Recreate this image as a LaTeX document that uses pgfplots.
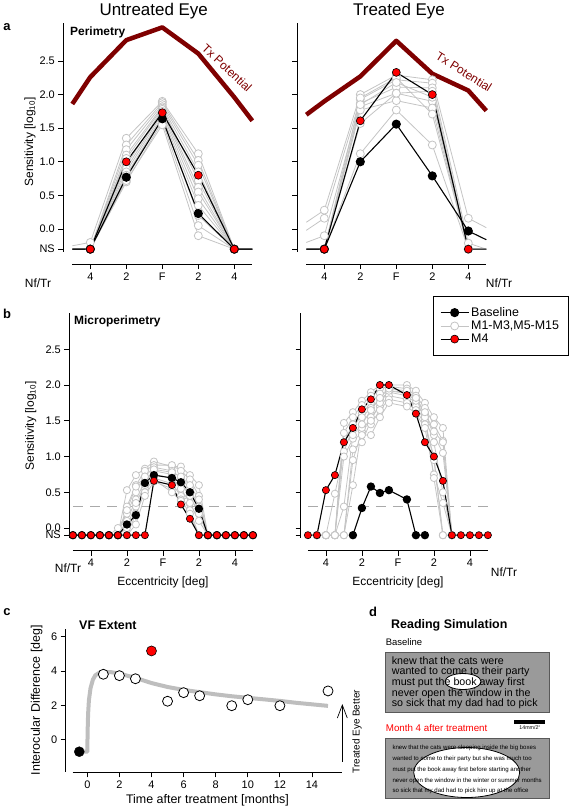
\documentclass[border=0pt]{standalone}
\usepackage{fontspec}
\setmainfont{Liberation Sans}
\usepackage{pgfplots}
\pgfplotsset{compat=1.18}
\definecolor{lg}{HTML}{C4C4C4}
\definecolor{tx}{HTML}{7F0000}
\definecolor{cg}{HTML}{BEBEBE}
\definecolor{boxg}{HTML}{9A9A9A}
\definecolor{dashg}{HTML}{AAAAAA}
\pgfplotsset{
  rstyle/.style={scale only axis, axis x line*=bottom, axis y line*=left,
    axis line style={draw=none}, tick align=outside, major tick length=5bp,
    tick style={black, line width=0.8bp}, clip=false,
    ticklabel style={font=\fontsize{11}{13}\selectfont},
    minor tick num=0},
  gs/.style={color=lg, line width=0.8bp, mark=*, mark size=4bp, mark options={fill=white, draw=lg, line width=0.8bp, solid}},
  bs/.style={black, line width=1.1bp, mark=*, mark size=4bp, mark options={fill=black, draw=black, solid}},
  rs/.style={black, line width=1.1bp, mark=*, mark size=4bp, mark options={fill=red, draw=black, line width=0.6bp, solid}},
}
\begin{document}
\begin{tikzpicture}
\path[use as bounding box] (0,0) rectangle (576bp,-810bp);

% ================= Panel a, untreated =================
\begin{axis}[rstyle, at={(63.3bp,-264bp)}, anchor=south west, width=198bp, height=241bp,
  xmin=-5.5, xmax=5.5, ymin=-0.521, ymax=3.065,
  xtick={-4,-2,0,2,4}, xticklabels={4,2,F,2,4},
  ytick={-0.3,0,0.5,1,1.5,2,2.5}, yticklabels={NS,0.0,0.5,1.0,1.5,2.0,2.5}]
\draw[line width=0.8bp] (axis cs:-5.5,3.065) -- (axis cs:-5.5,-0.34);
\draw[line width=0.8bp] (axis cs:-5,-0.521) -- (axis cs:5,-0.521);
\addplot[tx, line width=4.5bp, line join=round] coordinates {(-5,1.86)(-4,2.26)(-2,2.81)(0,3.0)(2,2.61)(4,1.96)(5,1.61)};
\addplot[gs, mark indices={2,3,4,5,6}] coordinates {(-5,-0.25)(-4,-0.2)(-2,1.35)(0,1.90)(2,1.12)(4,-0.3)(5,-0.3)};
\addplot[gs, mark indices={2,3,4,5,6}] coordinates {(-5,-0.3)(-4,-0.3)(-2,1.25)(0,1.88)(2,1.02)(4,-0.3)(5,-0.3)};
\addplot[gs, mark indices={2,3,4,5,6}] coordinates {(-5,-0.3)(-4,-0.3)(-2,1.18)(0,1.85)(2,0.95)(4,-0.3)(5,-0.3)};
\addplot[gs, mark indices={2,3,4,5,6}] coordinates {(-5,-0.3)(-4,-0.3)(-2,1.10)(0,1.82)(2,0.85)(4,-0.3)(5,-0.3)};
\addplot[gs, mark indices={2,3,4,5,6}] coordinates {(-5,-0.3)(-4,-0.3)(-2,1.05)(0,1.80)(2,0.72)(4,-0.3)(5,-0.3)};
\addplot[gs, mark indices={2,3,4,5,6}] coordinates {(-5,-0.3)(-4,-0.3)(-2,0.95)(0,1.78)(2,0.62)(4,-0.3)(5,-0.3)};
\addplot[gs, mark indices={2,3,4,5,6}] coordinates {(-5,-0.3)(-4,-0.3)(-2,0.90)(0,1.75)(2,0.55)(4,-0.3)(5,-0.3)};
\addplot[gs, mark indices={2,3,4,5,6}] coordinates {(-5,-0.3)(-4,-0.3)(-2,0.85)(0,1.72)(2,0.45)(4,-0.3)(5,-0.3)};
\addplot[gs, mark indices={2,3,4,5,6}] coordinates {(-5,-0.3)(-4,-0.3)(-2,0.80)(0,1.68)(2,0.35)(4,-0.3)(5,-0.3)};
\addplot[gs, mark indices={2,3,4,5,6}] coordinates {(-5,-0.3)(-4,-0.3)(-2,0.75)(0,1.65)(2,0.20)(4,-0.3)(5,-0.3)};
\addplot[gs, mark indices={2,3,4,5,6}] coordinates {(-5,-0.3)(-4,-0.3)(-2,0.70)(0,1.60)(2,0.05)(4,-0.3)(5,-0.3)};
\addplot[gs, mark indices={2,3,4,5,6}] coordinates {(-5,-0.3)(-4,-0.3)(-2,0.72)(0,1.55)(2,-0.10)(4,-0.3)(5,-0.3)};
\addplot[bs, mark indices={2,3,4,5,6}] coordinates {(-5,-0.3)(-4,-0.3)(-2,0.77)(0,1.64)(2,0.23)(4,-0.3)(5,-0.3)};
\addplot[rs, mark indices={2,3,4,5,6}] coordinates {(-5,-0.3)(-4,-0.3)(-2,1.0)(0,1.73)(2,0.80)(4,-0.3)(5,-0.3)};
\end{axis}

% ================= Panel a, treated =================
\begin{axis}[rstyle, at={(297.3bp,-264bp)}, anchor=south west, width=198bp, height=241bp,
  xmin=-5.5, xmax=5.5, ymin=-0.521, ymax=3.065,
  xtick={-4,-2,0,2,4}, xticklabels={4,2,F,2,4},
  ytick={-0.3,0,0.5,1,1.5,2,2.5}, yticklabels={}]
\draw[line width=0.8bp] (axis cs:-5.5,3.065) -- (axis cs:-5.5,-0.34);
\draw[line width=0.8bp] (axis cs:-5,-0.521) -- (axis cs:5,-0.521);
\addplot[tx, line width=4.5bp, line join=round] coordinates {(-5,1.70)(-4,1.90)(-2,2.27)(0,2.80)(2,2.31)(4,2.06)(5,1.76)};
\addplot[gs, mark indices={2,3,4,5,6}] coordinates {(-5,0.10)(-4,0.28)(-2,2.00)(0,2.29)(2,2.22)(4,0.16)(5,0.02)};
\addplot[gs, mark indices={2,3,4,5,6}] coordinates {(-5,-0.02)(-4,0.16)(-2,1.93)(0,2.22)(2,2.17)(4,-0.21)(5,-0.3)};
\addplot[gs, mark indices={2,3,4,5,6}] coordinates {(-5,-0.2)(-4,-0.1)(-2,1.87)(0,2.11)(2,2.10)(4,-0.3)(5,-0.3)};
\addplot[gs, mark indices={2,3,4,5,6}] coordinates {(-5,-0.3)(-4,-0.3)(-2,1.82)(0,2.02)(2,1.90)(4,-0.3)(5,-0.3)};
\addplot[gs, mark indices={2,3,4,5,6}] coordinates {(-5,-0.3)(-4,-0.3)(-2,1.77)(0,1.91)(2,1.80)(4,-0.3)(5,-0.3)};
\addplot[gs, mark indices={2,3,4,5,6}] coordinates {(-5,-0.3)(-4,-0.3)(-2,1.95)(0,2.25)(2,1.71)(4,-0.3)(5,-0.3)};
\addplot[gs, mark indices={2,3,4,5,6}] coordinates {(-5,-0.3)(-4,-0.3)(-2,1.57)(0,2.02)(2,2.05)(4,-0.3)(5,-0.3)};
\addplot[gs, mark indices={2,3,4,5,6}] coordinates {(-5,-0.3)(-4,-0.3)(-2,1.12)(0,1.77)(2,1.25)(4,-0.3)(5,-0.3)};
\addplot[gs, mark indices={2,3,4,5,6}] coordinates {(-5,-0.3)(-4,-0.3)(-2,1.85)(0,2.18)(2,1.96)(4,-0.3)(5,-0.3)};
\addplot[bs, mark indices={2,3,4,5,6}] coordinates {(-5,-0.3)(-4,-0.3)(-2,1.0)(0,1.56)(2,0.79)(4,-0.03)(5,-0.16)};
\addplot[rs, mark indices={2,3,4,5,6}] coordinates {(-5,-0.3)(-4,-0.3)(-2,1.61)(0,2.33)(2,2.0)(4,-0.3)(5,-0.3)};
\end{axis}

% ================= Panel b, untreated =================
\begin{axis}[rstyle, at={(69.3bp,-550.7bp)}, anchor=south west, width=187.2bp, height=237.4bp,
  xmin=-5.2, xmax=5.2, ymin=-0.317, ymax=3.003,
  xtick={-4,-2,0,2,4}, xticklabels={4,2,F,2,4},
  ytick={-0.1,0,0.5,1,1.5,2,2.5}, yticklabels={NS,0.0,0.5,1.0,1.5,2.0,2.5}]
\draw[line width=0.8bp] (axis cs:-5.2,3.003) -- (axis cs:-5.2,-0.14);
\draw[line width=0.8bp] (axis cs:-5,-0.317) -- (axis cs:5,-0.317);
\addplot[dashg, line width=0.8bp, dash pattern=on 10bp off 7bp] coordinates {(-5,0.3)(5,0.3)};
\addplot[gs, mark size=3.6bp] coordinates {(-3,-0.1)(-2.5,-0.1)(-2,0.53)(-1.5,0.74)(-1,0.83)(-0.5,0.93)(0.5,0.86)(1,0.86)(1.5,0.74)(2,0.60)(2.5,-0.1)(3,-0.1)};
\addplot[gs, mark size=3.6bp] coordinates {(-3,-0.1)(-2.5,-0.1)(-2,0.30)(-1.5,0.60)(-1,0.80)(-0.5,0.88)(0.5,0.88)(1,0.80)(1.5,0.68)(2,0.45)(2.5,-0.1)(3,-0.1)};
\addplot[gs, mark size=3.6bp] coordinates {(-3,-0.1)(-2.5,0.0)(-2,0.20)(-1.5,0.50)(-1,0.72)(-0.5,0.85)(0.5,0.80)(1,0.70)(1.5,0.55)(2,0.30)(2.5,-0.1)(3,-0.1)};
\addplot[gs, mark size=3.6bp] coordinates {(-3,-0.1)(-2.5,-0.1)(-2,0.10)(-1.5,0.40)(-1,0.65)(-0.5,0.80)(0.5,0.75)(1,0.62)(1.5,0.45)(2,0.20)(2.5,-0.1)(3,-0.1)};
\addplot[gs, mark size=3.6bp] coordinates {(-3,-0.1)(-2.5,-0.1)(-2,-0.1)(-1.5,0.30)(-1,0.55)(-0.5,0.75)(0.5,0.70)(1,0.55)(1.5,0.35)(2,0.10)(2.5,-0.1)(3,-0.1)};
\addplot[gs, mark size=3.6bp] coordinates {(-3,-0.1)(-2.5,-0.1)(-2,-0.1)(-1.5,0.20)(-1,0.50)(-0.5,0.70)(0.5,0.62)(1,0.45)(1.5,0.25)(2,-0.1)(2.5,-0.1)(3,-0.1)};
\addplot[gs, mark size=3.6bp] coordinates {(-3,-0.1)(-2.5,-0.1)(-2,-0.1)(-1.5,0.05)(-1,0.45)(-0.5,0.65)(0.5,0.55)(1,0.40)(1.5,0.20)(2,-0.1)(2.5,-0.1)(3,-0.1)};
\addplot[gs, mark size=3.6bp] coordinates {(-3,-0.1)(-2.5,-0.1)(-2,0.0)(-1.5,0.35)(-1,0.60)(-0.5,0.82)(0.5,0.78)(1,0.72)(1.5,0.60)(2,0.40)(2.5,-0.1)(3,-0.1)};
\addplot[gs, mark size=3.6bp] coordinates {(-3,-0.1)(-2.5,-0.1)(-2,0.25)(-1.5,0.58)(-1,0.72)(-0.5,0.68)(0.5,0.50)(1,0.38)(1.5,0.45)(2,0.20)(2.5,-0.1)(3,-0.1)};
\addplot[bs, mark size=3.6bp] coordinates {(-5,-0.1)(-4.5,-0.1)(-4,-0.1)(-3.5,-0.1)(-3,-0.1)(-2.5,-0.1)(-2,0.05)(-1.5,0.18)(-1,0.63)(-0.5,0.74)(0.5,0.70)(1,0.64)(1.5,0.50)(2,0.27)(2.5,-0.1)(3,-0.1)(3.5,-0.1)(4,-0.1)(4.5,-0.1)(5,-0.1)};
\addplot[rs, mark size=3.6bp] coordinates {(-5,-0.1)(-4.5,-0.1)(-4,-0.1)(-3.5,-0.1)(-3,-0.1)(-2.5,-0.1)(-2,-0.1)(-1.5,-0.1)(-1,-0.1)(-0.5,0.66)(0.5,0.60)(1,0.33)(1.5,0.13)(2,-0.1)(2.5,-0.1)(3,-0.1)(3.5,-0.1)(4,-0.1)(4.5,-0.1)(5,-0.1)};
\end{axis}

% ================= Panel b, treated =================
\begin{axis}[rstyle, at={(300.7bp,-550.7bp)}, anchor=south west, width=194.4bp, height=237.4bp,
  xmin=-5.4, xmax=5.4, ymin=-0.317, ymax=3.003,
  xtick={-4,-2,0,2,4}, xticklabels={4,2,F,2,4},
  ytick={-0.1,0,0.5,1,1.5,2,2.5}, yticklabels={},
  legend cell align=left,
  legend style={at={(0.679,1.073)}, anchor=north west, draw=black, line width=0.8bp,
    font=\fontsize{12.5}{13.5}\selectfont, inner xsep=7bp, inner ysep=9bp, row sep=-1bp},
  legend image code/.code={\draw[mark repeat=2,mark phase=2,#1] plot coordinates {(0bp,0bp) (14bp,0bp) (28bp,0bp)};}]
\addlegendimage{bs}\addlegendentry{Baseline}
\addlegendimage{gs}\addlegendentry{M1-M3,M5-M15}
\addlegendimage{rs}\addlegendentry{M4}
\draw[line width=0.8bp] (axis cs:-5.4,3.003) -- (axis cs:-5.4,-0.14);
\draw[line width=0.8bp] (axis cs:-5,-0.317) -- (axis cs:5,-0.317);
\addplot[dashg, line width=0.8bp, dash pattern=on 10bp off 7bp, forget plot] coordinates {(-5,0.3)(5,0.3)};
\addplot[gs, mark size=3.6bp, forget plot] coordinates {(-4.5,-0.1)(-4,-0.1)(-3.5,-0.1)(-3,1.47)(-2.5,1.62)(-2,1.78)(-1.5,1.90)(-1,2.00)(-0.5,2.00)(0.5,2.00)(1,1.92)(1.5,1.75)(2,1.55)(2.5,1.40)(3,-0.1)};
\addplot[gs, mark size=3.6bp, forget plot] coordinates {(-4.5,-0.1)(-4,-0.1)(-3.5,-0.1)(-3,1.33)(-2.5,1.55)(-2,1.72)(-1.5,1.85)(-1,1.95)(-0.5,1.98)(0.5,1.95)(1,1.85)(1.5,1.68)(2,1.45)(2.5,1.22)(3,-0.1)};
\addplot[gs, mark size=3.6bp, forget plot] coordinates {(-4.5,-0.1)(-4,-0.1)(-3.5,0.48)(-3,1.07)(-2.5,1.40)(-2,1.60)(-1.5,1.75)(-1,1.88)(-0.5,1.92)(0.5,1.90)(1,1.80)(1.5,1.60)(2,1.30)(2.5,1.05)(3,-0.1)};
\addplot[gs, mark size=3.6bp, forget plot] coordinates {(-4.5,-0.1)(-4,-0.1)(-3.5,-0.1)(-3,1.20)(-2.5,1.45)(-2,1.55)(-1.5,1.68)(-1,1.80)(-0.5,1.90)(0.5,1.85)(1,1.75)(1.5,1.55)(2,1.20)(2.5,0.50)(3,-0.1)};
\addplot[gs, mark size=3.6bp, forget plot] coordinates {(-4.5,-0.1)(-4,-0.1)(-3.5,-0.1)(-3,-0.1)(-2.5,0.95)(-2,1.35)(-1.5,1.55)(-1,1.70)(-0.5,1.85)(0.5,1.80)(1,1.70)(1.5,1.50)(2,0.95)(2.5,-0.1)(3,-0.1)};
\addplot[gs, mark size=3.6bp, forget plot] coordinates {(-4.5,-0.1)(-4,-0.1)(-3.5,-0.1)(-3,-0.1)(-2.5,0.60)(-2,1.40)(-1.5,1.45)(-1,1.65)(-0.5,1.80)(0.5,1.75)(1,1.65)(1.5,1.45)(2,1.00)(2.5,-0.1)(3,-0.1)};
\addplot[gs, mark size=3.6bp, forget plot] coordinates {(-4.5,-0.1)(-4,-0.1)(-3.5,-0.1)(-3,1.00)(-2.5,1.25)(-2,1.30)(-1.5,1.30)(-1,1.55)(-0.5,1.75)(0.5,1.70)(1,1.60)(1.5,1.40)(2,0.75)(2.5,0.35)(3,-0.1)};
\addplot[gs, mark size=3.6bp, forget plot] coordinates {(-4.5,-0.1)(-4,-0.1)(-3.5,-0.1)(-3,-0.1)(-2.5,1.10)(-2,1.20)(-1.5,1.50)(-1,1.75)(-0.5,1.92)(0.5,1.88)(1,1.78)(1.5,1.55)(2,0.70)(2.5,-0.1)(3,-0.1)};
\addplot[gs, mark size=3.6bp, forget plot] coordinates {(-4.5,-0.1)(-4,-0.1)(-3.5,-0.1)(-3,0.30)(-2.5,1.30)(-2,1.45)(-1.5,1.65)(-1,1.82)(-0.5,1.95)(0.5,1.92)(1,1.82)(1.5,1.62)(2,1.35)(2.5,1.20)(3,-0.1)};
\addplot[bs, mark size=3.6bp, forget plot] coordinates {(-2.5,-0.1)(-2,0.28)(-1.5,0.58)(-1,0.49)(-0.5,0.53)(0.5,0.40)(1,-0.1)(1.5,-0.1)};
\addplot[rs, mark size=3.6bp, forget plot] coordinates {(-5,-0.1)(-4.5,-0.1)(-4,0.53)(-3.5,0.74)(-3,1.20)(-2.5,1.40)(-2,1.66)(-1.5,1.80)(-1,2.0)(-0.5,2.0)(0.5,1.86)(1,1.60)(1.5,1.20)(2,1.0)(2.5,0.66)(3,-0.1)(3.5,-0.1)(4,-0.1)(4.5,-0.1)(5,-0.1)};
\end{axis}

% ================= Panel c =================
\begin{axis}[rstyle, at={(65.7bp,-772.3bp)}, anchor=south west, width=286.4bp, height=143bp,
  xmin=-1.346, xmax=16.5, ymin=-1.9, ymax=6.43,
  xtick={0,2,4,6,8,10,12,14}, xticklabels={0,2,4,6,8,10,12,14},
  ytick={0,2,4,6}, yticklabels={0,2,4,6}]
\draw[line width=0.8bp] (axis cs:-1.346,6.43) -- (axis cs:-1.346,-1.9);
\draw[line width=0.8bp] (axis cs:-0.91,-1.9) -- (axis cs:15.85,-1.9);
\addplot[cg, line width=4bp, line join=round] coordinates {(-0.5,-0.7)(0,-0.7)(0.02,0.5)(0.05,1.5)(0.1,2.3)(0.2,3.0)(0.35,3.5)(0.5,3.75)(0.75,3.9)(1,3.95)(1.5,3.93)(2,3.85)(3,3.6)(4,3.3)(5,3.07)(6,2.9)(7,2.77)(8,2.64)(9,2.53)(10,2.44)(11,2.35)(12,2.26)(13,2.15)(14,2.06)(15,1.97)};
\addplot[only marks, mark=*, mark size=5bp, mark options={fill=white, draw=black, line width=0.8bp}] coordinates {(1,3.81)(2,3.73)(3,3.55)(5,2.24)(6,2.74)(7,2.56)(9,1.98)(10,2.33)(12,1.98)(15,2.84)};
\addplot[only marks, mark=*, mark size=5bp, mark options={fill=black, draw=black}] coordinates {(-0.5,-0.70)};
\addplot[only marks, mark=*, mark size=5bp, mark options={fill=red, draw=black, line width=0.6bp}] coordinates {(4,5.17)};
\draw[line width=0.7bp] (axis cs:15.89,-1.28) -- (axis cs:15.89,2.02);
\draw[line width=0.7bp] (axis cs:15.58,1.26) -- (axis cs:15.89,2.02) -- (axis cs:16.2,1.26);
\end{axis}

% ================= Text =================
\node[font=\fontsize{17}{20}\selectfont] at (153.7bp,-11bp) {Untreated Eye};
\node[font=\fontsize{17}{20}\selectfont] at (399bp,-11bp) {Treated Eye};
\node[font=\bfseries\fontsize{13}{15}\selectfont] at (7bp,-27bp) {a};
\node[font=\bfseries\fontsize{13}{15}\selectfont] at (7bp,-314bp) {b};
\node[font=\bfseries\fontsize{13}{15}\selectfont] at (7bp,-612bp) {c};
\node[font=\bfseries\fontsize{13}{15}\selectfont] at (373bp,-612bp) {d};
\node[anchor=west, inner sep=0, font=\bfseries\fontsize{12}{14}\selectfont] at (70bp,-32bp) {Perimetry};
\node[anchor=west, inner sep=0, font=\bfseries\fontsize{12}{14}\selectfont] at (74bp,-321bp) {Microperimetry};
\node[anchor=west, inner sep=0, font=\bfseries\fontsize{12.5}{14}\selectfont] at (79bp,-625bp) {VF Extent};
\node[rotate=90, font=\fontsize{12}{14}\selectfont] at (30bp,-142bp) {Sensitivity [log\textsubscript{10}]};
\node[rotate=90, font=\fontsize{12}{14}\selectfont] at (30.7bp,-426bp) {Sensitivity [log\textsubscript{10}]};
\node[rotate=90, font=\fontsize{12.5}{14}\selectfont] at (36.7bp,-700bp) {Interocular Difference [deg]};
\node[font=\fontsize{12.5}{14}\selectfont] at (207.5bp,-800bp) {Time after treatment [months]};
\node[rotate=90, font=\fontsize{10}{12}\selectfont] at (357bp,-731.7bp) {Treated Eye Better};
\node[font=\fontsize{12}{14}\selectfont] at (38bp,-283bp) {Nf/Tr};
\node[font=\fontsize{12}{14}\selectfont] at (499bp,-283bp) {Nf/Tr};
\node[font=\fontsize{12}{14}\selectfont] at (68bp,-568bp) {Nf/Tr};
\node[font=\fontsize{12}{14}\selectfont] at (504bp,-572bp) {Nf/Tr};
\node[font=\fontsize{12}{14}\selectfont] at (163bp,-582bp) {Eccentricity [deg]};
\node[font=\fontsize{12}{14}\selectfont] at (398bp,-582bp) {Eccentricity [deg]};
\node[rotate=-43, text=tx, font=\fontsize{12}{14}\selectfont] at (227bp,-68bp) {Tx Potential};
\node[rotate=-32, text=tx, font=\fontsize{12}{14}\selectfont] at (464bp,-72bp) {Tx Potential};

% ================= Panel d =================
\node[anchor=west, inner sep=0, font=\bfseries\fontsize{12.5}{14}\selectfont] at (391bp,-625bp) {Reading Simulation};
\node[anchor=west, inner sep=0, font=\fontsize{9.5}{11}\selectfont] at (385.7bp,-642.3bp) {Baseline};
\draw[fill=boxg, draw=black!65, line width=0.8bp] (385.7bp,-652.3bp) rectangle (549bp,-712.3bp);
\draw[fill=white, draw=black, line width=0.8bp] (463bp,-681.5bp) ellipse [x radius=18bp, y radius=8bp];
\begin{scope}[every node/.style={anchor=base west, inner sep=0, font=\fontsize{10.7}{12}\selectfont}]
\node at (391.7bp,-664.2bp) {knew that the cats were};
\node at (391.7bp,-674.8bp) {wanted to come to their party};
\node at (391.7bp,-685.4bp) {must put the book away first};
\node at (391.7bp,-696bp) {never open the window in the};
\node at (391.7bp,-706.6bp) {so sick that my dad had to pick};
\end{scope}
\node[anchor=west, inner sep=0, text=red, font=\fontsize{9.8}{11}\selectfont] at (385.7bp,-728.5bp) {Month 4 after treatment};
\fill[black] (514.3bp,-719.7bp) rectangle (545bp,-723.7bp);
\node[inner sep=0, font=\fontsize{5.3}{6}\selectfont] at (530bp,-727.5bp) {14mm/2°};
\draw[fill=boxg, draw=black!65, line width=0.8bp] (385.7bp,-738.3bp) rectangle (549bp,-798.3bp);
\draw[fill=white, draw=black, line width=0.8bp] (466.7bp,-772.5bp) ellipse [x radius=53bp, y radius=25bp];
\begin{scope}[every node/.style={anchor=base west, inner sep=0, font=\fontsize{6.1}{7}\selectfont}]
\node at (392.3bp,-749.8bp) {knew that the cats were sleeping inside the big boxes};
\node at (392.3bp,-760.8bp) {wanted to come to their party but she was much too};
\node at (392.3bp,-771.4bp) {must put the book away first before starting another};
\node at (392.3bp,-782bp) {never open the window in the winter or summer months};
\node at (392.3bp,-792.7bp) {so sick that my dad had to pick him up at the office};
\end{scope}
\end{tikzpicture}
\end{document}
